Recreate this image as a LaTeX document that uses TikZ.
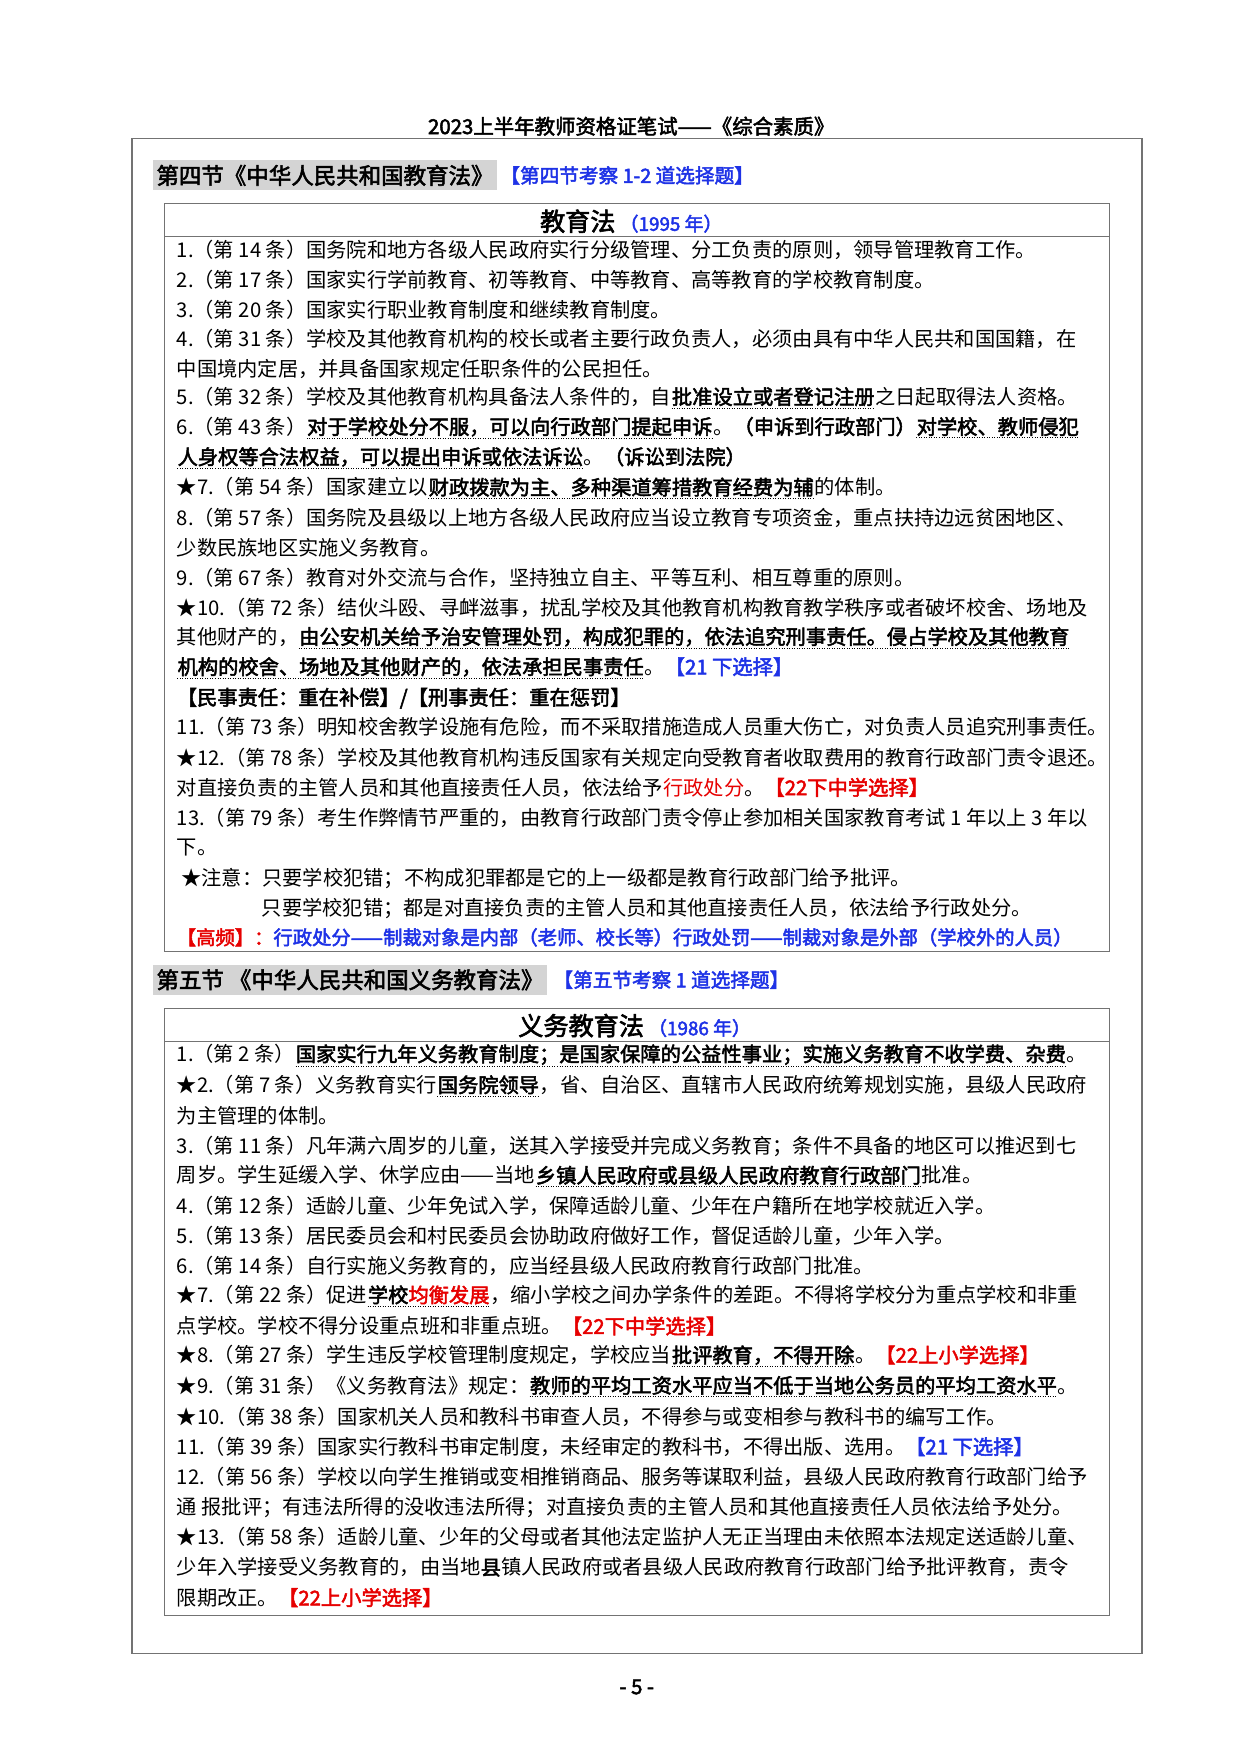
\documentclass[tikz,border=0pt]{standalone}
\usepackage{fontspec}
\setmainfont{Noto Sans CJK SC}[AutoFakeBold=2.5]
\definecolor{kb}{RGB}{30,50,230}
\definecolor{kr}{RGB}{230,0,0}
\definecolor{hg}{RGB}{212,212,212}
\newcommand{\ku}[1]{\tikz[baseline=(u.base)]{\node[inner sep=0pt,anchor=base] (u) {\textbf{#1}};\draw[densely dotted,line width=0.6pt] ([yshift=-1pt]u.south west) -- ([yshift=-1pt]u.south east);}}
\newcommand{\tb}[1]{\textcolor{kb}{\textbf{#1}}}
\newcommand{\tr}[1]{\textcolor{kr}{\textbf{#1}}}
\tikzset{
  ln/.style={anchor=west,inner sep=0pt,font=\fontsize{12.9}{14}\selectfont},
  frame/.style={draw=black!55,line width=0.6pt},
  hdr/.style={anchor=west,fill=hg,inner sep=2pt,minimum height=27*0.025cm,font=\fontsize{14.3}{16}\selectfont\bfseries},
  hnote/.style={anchor=west,inner sep=0pt,font=\fontsize{12.5}{14}\selectfont\bfseries,text=kb},
  ttl/.style={anchor=center,inner sep=0pt,font=\fontsize{16}{18}\selectfont\bfseries}
}
\begin{document}
\begin{tikzpicture}[x=0.025cm,y=-0.025cm]
\useasboundingbox (0,0) rectangle (1110,1570);
% page title and frame
\node[ttl,font=\fontsize{13}{15}\selectfont\bfseries] (title) at (565,113) {2023上半年教师资格证笔试——《综合素质》};
\draw[frame,line width=1pt] (118,124) rectangle (1022,1480);
% section 4
\node[hdr] (h4) at (137,157) {第四节《中华人民共和国教育法》};
\node[hnote] (h4n) at (h4.east) [xshift=2pt] {【第四节考察 1-2 道选择题】};
\draw[frame] (147,182) rectangle (993,852);
\draw[frame] (147,212) -- (993,212);
\node[ttl] (t1) at (565,198) {教育法\,\textcolor{kb}{\fontsize{12}{14}\selectfont（1995 年）}};
\node[ln] (a1) at (158,224) {1.（第 14 条）国务院和地方各级人民政府实行分级管理、分工负责的原则，领导管理教育工作。};
\node[ln] (a2) at (158,250) {2.（第 17 条）国家实行学前教育、初等教育、中等教育、高等教育的学校教育制度。};
\node[ln] (a3) at (158,277) {3.（第 20 条）国家实行职业教育制度和继续教育制度。};
\node[ln] (a4) at (158,303) {4.（第 31 条）学校及其他教育机构的校长或者主要行政负责人，必须由具有中华人民共和国国籍，在};
\node[ln] (a5) at (158,330) {中国境内定居，并具备国家规定任职条件的公民担任。};
\node[ln] (a6) at (158,356) {5.（第 32 条）学校及其他教育机构具备法人条件的，自\ku{批准设立或者登记注册}之日起取得法人资格。};
\node[ln] (a7) at (158,383) {6.（第 43 条）\ku{对于学校处分不服，可以向行政部门提起申诉}。\textbf{（申诉到行政部门）}\ku{对学校、教师侵犯}};
\node[ln] (a8) at (158,410) {\ku{人身权等合法权益，可以提出申诉或依法诉讼}。\textbf{（诉讼到法院）}};
\node[ln] (a9) at (158,437) {★7.（第 54 条）国家建立以\ku{财政拨款为主、多种渠道筹措教育经费为辅}的体制。};
\node[ln] (a10) at (158,464) {8.（第 57 条）国务院及县级以上地方各级人民政府应当设立教育专项资金，重点扶持边远贫困地区、};
\node[ln] (a11) at (158,490) {少数民族地区实施义务教育。};
\node[ln] (a12) at (158,517) {9.（第 67 条）教育对外交流与合作，坚持独立自主、平等互利、相互尊重的原则。};
\node[ln] (a13) at (158,544) {★10.（第 72 条）结伙斗殴、寻衅滋事，扰乱学校及其他教育机构教育教学秩序或者破坏校舍、场地及};
\node[ln] (a14) at (158,571) {其他财产的，\ku{由公安机关给予治安管理处罚，构成犯罪的，依法追究刑事责任。侵占学校及其他教育}};
\node[ln] (a15) at (158,598) {\ku{机构的校舍、场地及其他财产的，依法承担民事责任}。\tb{【21 下选择】}};
\node[ln] (a16) at (158,625) {\textbf{【民事责任：重在补偿】/【刑事责任：重在惩罚】}};
\node[ln] (a17) at (158,651) {11.（第 73 条）明知校舍教学设施有危险，而不采取措施造成人员重大伤亡，对负责人员追究刑事责任。};
\node[ln] (a18) at (158,678) {★12.（第 78 条）学校及其他教育机构违反国家有关规定向受教育者收取费用的教育行政部门责令退还。};
\node[ln] (a19) at (158,705) {对直接负责的主管人员和其他直接责任人员，依法给予\textcolor{kr}{行政处分}。\tr{【22下中学选择】}};
\node[ln] (a20) at (158,732) {13.（第 79 条）考生作弊情节严重的，由教育行政部门责令停止参加相关国家教育考试 1 年以上 3 年以};
\node[ln] (a21) at (158,759) {下。};
\node[ln] (a22) at (162,786) {★注意：只要学校犯错；不构成犯罪都是它的上一级都是教育行政部门给予批评。};
\node[ln] (a23) at (234,813) {只要学校犯错；都是对直接负责的主管人员和其他直接责任人员，依法给予行政处分。};
\node[ln,font=\fontsize{12.3}{14}\selectfont] (a24) at (158,839) {\tr{【高频】：}\tb{行政处分——制裁对象是内部（老师、校长等）行政处罚——制裁对象是外部（学校外的人员）}};
% section 5
\node[hdr] (h5) at (137,877) {第五节 《中华人民共和国义务教育法》};
\node[hnote] (h5n) at (h5.east) [xshift=4pt] {【第五节考察 1 道选择题】};
\draw[frame] (147,903) rectangle (993,1446);
\draw[frame] (147,932) -- (993,932);
\node[ttl] (t2) at (568,918) {义务教育法\,\textcolor{kb}{\fontsize{12}{14}\selectfont（1986 年）}};
\node[ln] (b1) at (158,945) {1.（第 2 条）\ku{国家实行九年义务教育制度；是国家保障的公益性事业；实施义务教育不收学费、杂费}。};
\node[ln] (b2) at (158,972) {★2.（第 7 条）义务教育实行\ku{国务院领导}，省、自治区、直辖市人民政府统筹规划实施，县级人民政府};
\node[ln] (b3) at (158,999) {为主管理的体制。};
\node[ln] (b4) at (158,1026) {3.（第 11 条）凡年满六周岁的儿童，送其入学接受并完成义务教育；条件不具备的地区可以推迟到七};
\node[ln] (b5) at (158,1053) {周岁。学生延缓入学、休学应由——当地\ku{乡镇人民政府或县级人民政府教育行政部门}批准。};
\node[ln] (b6) at (158,1079) {4.（第 12 条）适龄儿童、少年免试入学，保障适龄儿童、少年在户籍所在地学校就近入学。};
\node[ln] (b7) at (158,1106) {5.（第 13 条）居民委员会和村民委员会协助政府做好工作，督促适龄儿童，少年入学。};
\node[ln] (b8) at (158,1133) {6.（第 14 条）自行实施义务教育的，应当经县级人民政府教育行政部门批准。};
\node[ln] (b9) at (158,1160) {★7.（第 22 条）促进\ku{学校\textcolor{kr}{均衡发展}}，缩小学校之间办学条件的差距。不得将学校分为重点学校和非重};
\node[ln] (b10) at (158,1187) {点学校。学校不得分设重点班和非重点班。\tr{【22下中学选择】}};
\node[ln] (b11) at (158,1214) {★8.（第 27 条）学生违反学校管理制度规定，学校应当\ku{批评教育，不得开除}。\tr{【22上小学选择】}};
\node[ln] (b12) at (158,1241) {★9.（第 31 条）《义务教育法》规定：\ku{教师的平均工资水平应当不低于当地公务员的平均工资水平}。};
\node[ln] (b13) at (158,1268) {★10.（第 38 条）国家机关人员和教科书审查人员，不得参与或变相参与教科书的编写工作。};
\node[ln] (b14) at (158,1295) {11.（第 39 条）国家实行教科书审定制度，未经审定的教科书，不得出版、选用。\tb{【21 下选择】}};
\node[ln] (b15) at (158,1322) {12.（第 56 条）学校以向学生推销或变相推销商品、服务等谋取利益，县级人民政府教育行政部门给予};
\node[ln] (b16) at (158,1349) {通 报批评；有违法所得的没收违法所得；对直接负责的主管人员和其他直接责任人员依法给予处分。};
\node[ln] (b17) at (158,1376) {★13.（第 58 条）适龄儿童、少年的父母或者其他法定监护人无正当理由未依照本法规定送适龄儿童、};
\node[ln] (b18) at (158,1403) {少年入学接受义务教育的，由当地\textbf{县}镇人民政府或者县级人民政府教育行政部门给予批评教育，责令};
\node[ln] (b19) at (158,1430) {限期改正。\tr{【22上小学选择】}};
\node[ttl,font=\fontsize{13}{15}\selectfont\bfseries] (pg) at (570,1510) {- 5 -};
\end{tikzpicture}
\end{document}
